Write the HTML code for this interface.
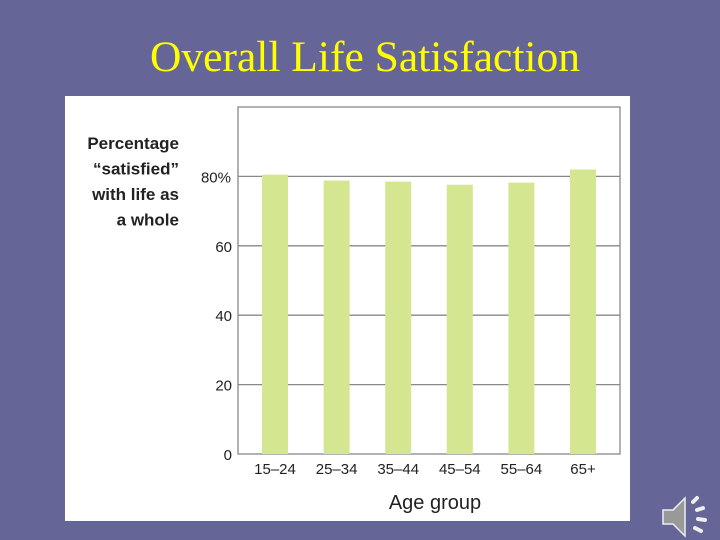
<!DOCTYPE html>
<html><head><meta charset="utf-8"><style>
body{margin:0;width:720px;height:540px;background:#656597;overflow:hidden;position:relative;font-family:"Liberation Sans",sans-serif}
#title{position:absolute;left:0;width:730px;top:32px;text-align:center;font-family:"Liberation Serif",serif;font-size:43.5px;color:#ffff00;line-height:50px}
#panel{position:absolute;left:65px;top:96px;width:565px;height:425px;background:#fff}
</style></head><body>
<div id="title">Overall Life Satisfaction</div>
<div id="panel"></div>
<svg id="chart" width="720" height="540" style="position:absolute;left:0;top:0"></svg>
<svg width="60" height="50" style="position:absolute;left:655px;top:488px">
<path d="M8 22 L18 22 L30 10 L30 48 L18 36 L8 36 Z" fill="#999" stroke="#eee" stroke-width="1.5"/>
<g stroke="#eee" stroke-width="4" stroke-linecap="round" fill="none"><path d="M38 14 L42 10"/><path d="M42 22 L48 20"/><path d="M43 31 L50 32"/><path d="M40 40 L46 43"/></g>
</svg>
<script>
const categories=["15–24","25–34","35–44","45–54","55–64","65+"];
const values=[80.5,78.8,78.5,77.6,78.2,82];
const ticks=[0,20,40,60,80];
const tickLabels=["0","20","40","60","80%"];
const NS="http://www.w3.org/2000/svg";
const svg=document.getElementById('chart');
const L=238,R=620,T=107,B=454;
const y=v=>B-(v/100)*(B-T);
const xc=i=>275+i*61.6;
function mk(t,a){const e=document.createElementNS(NS,t);for(const k in a)e.setAttribute(k,a[k]);svg.appendChild(e);return e;}
ticks.forEach((t,i)=>{
 if(t>0){const g=mk('line',{x1:L,x2:R,y1:y(t),y2:y(t),stroke:'#888','stroke-width':1.3});
 
 }
 const tx=mk('text',{x:i==4?231:232,y:y(t)+6,'text-anchor':'end','font-size':15,fill:'#222'});
 tx.textContent=tickLabels[i];
 
 
});
const fr=mk('rect',{x:L,y:T,width:R-L,height:B-T,fill:'none',stroke:'#888','stroke-width':1.3});


values.forEach((v,i)=>{
 const b=mk('rect',{x:xc(i)-13,y:y(v),width:26,height:B-y(v),fill:'#d4e68f'});
 
 
 const t=mk('text',{x:xc(i),y:474,'text-anchor':'middle','font-size':15,fill:'#222'});
 t.textContent=categories[i];
 
 
});
const xt=mk('text',{x:435,y:509,'text-anchor':'middle','font-size':20,fill:'#222'});
xt.textContent='Age group';


["Percentage","“satisfied”","with life as","a whole"].forEach((s,i)=>{
 const t=mk('text',{x:179,y:149+i*25.5,'text-anchor':'end','font-size':17,'font-weight':'bold',fill:'#222'});
 t.textContent=s;
 
 
});
</script>
</body></html>
